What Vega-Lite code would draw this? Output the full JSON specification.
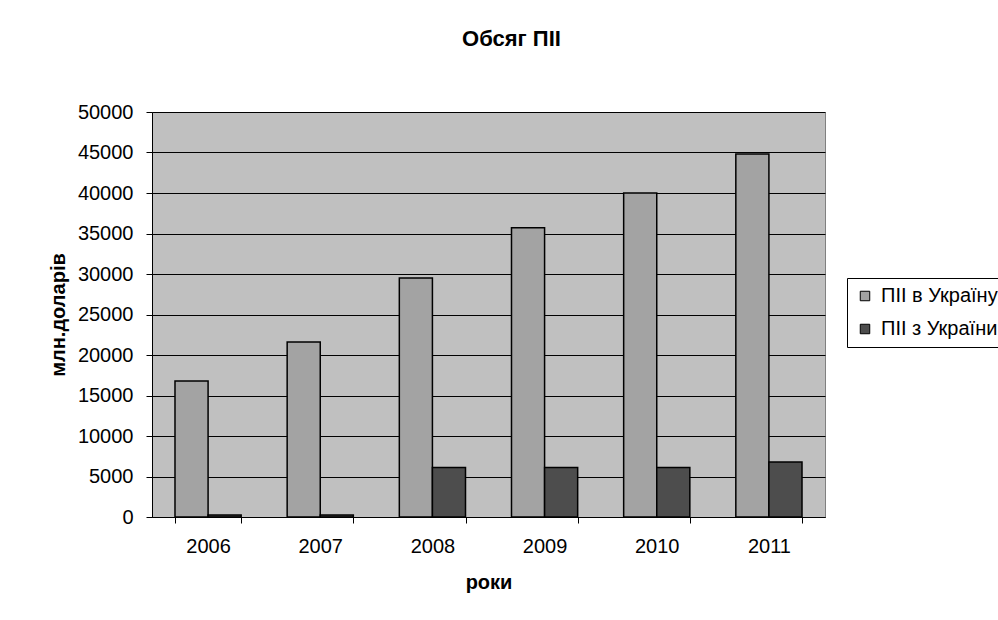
{
  "$schema": "https://vega.github.io/schema/vega-lite/v6.json",
  "width": 673,
  "height": 405,
  "autosize": {"type": "none"},
  "padding": {"left": 152, "top": 112, "right": 173, "bottom": 103},
  "background": "white",
  "title": {
    "text": "Обсяг ПІІ",
    "font": "Liberation Sans",
    "fontSize": 22,
    "fontWeight": "bold",
    "color": "black",
    "anchor": "middle",
    "frame": "group",
    "baseline": "alphabetic",
    "dx": 23,
    "offset": 34
  },
  "data": {
    "values": [
      {"year": "2006", "series": "ПІІ в Україну", "value": 16800},
      {"year": "2006", "series": "ПІІ з України", "value": 250},
      {"year": "2007", "series": "ПІІ в Україну", "value": 21600},
      {"year": "2007", "series": "ПІІ з України", "value": 250},
      {"year": "2008", "series": "ПІІ в Україну", "value": 29500},
      {"year": "2008", "series": "ПІІ з України", "value": 6100},
      {"year": "2009", "series": "ПІІ в Україну", "value": 35700},
      {"year": "2009", "series": "ПІІ з України", "value": 6100},
      {"year": "2010", "series": "ПІІ в Україну", "value": 40000},
      {"year": "2010", "series": "ПІІ з України", "value": 6100},
      {"year": "2011", "series": "ПІІ в Україну", "value": 44800},
      {"year": "2011", "series": "ПІІ з України", "value": 6800}
    ]
  },
  "mark": {"type": "bar", "stroke": "black", "strokeWidth": 1.5},
  "encoding": {
    "x": {
      "field": "year",
      "type": "nominal",
      "scale": {"paddingInner": 0.41, "paddingOuter": 0.205},
      "axis": {
        "title": "роки",
        "labelAngle": 0,
        "tickBand": "extent",
        "tickSize": 6,
        "labelPadding": 13,
        "titlePadding": 16,
        "grid": false
      }
    },
    "xOffset": {
      "field": "series",
      "type": "nominal",
      "sort": ["ПІІ в Україну", "ПІІ з України"]
    },
    "y": {
      "field": "value",
      "type": "quantitative",
      "scale": {"domain": [0, 50000], "nice": false},
      "axis": {
        "title": "млн.доларів",
        "values": [0, 5000, 10000, 15000, 20000, 25000, 30000, 35000, 40000, 45000, 50000],
        "format": "d",
        "tickSize": 6,
        "labelPadding": 13,
        "titlePadding": 9,
        "grid": true,
        "gridColor": "black",
        "gridOpacity": 1,
        "gridWidth": 1
      }
    },
    "color": {
      "field": "series",
      "type": "nominal",
      "sort": ["ПІІ в Україну", "ПІІ з України"],
      "scale": {"domain": ["ПІІ в Україну", "ПІІ з України"], "range": ["#A3A3A3", "#4D4D4D"]},
      "legend": {
        "title": null,
        "orient": "none",
        "legendX": 695,
        "legendY": 166,
        "strokeColor": "black",
        "fillColor": "white",
        "padding": 8,
        "rowPadding": 13,
        "symbolType": "square",
        "symbolSize": 90,
        "symbolStrokeColor": "black",
        "symbolStrokeWidth": 1,
        "symbolOpacity": 1,
        "labelFont": "Liberation Sans",
        "labelFontSize": 20,
        "labelColor": "black",
        "labelOffset": 6,
        "labelLimit": 300
      }
    }
  },
  "config": {
    "view": {"fill": "#C0C0C0", "stroke": "#808080", "strokeWidth": 1},
    "axis": {
      "domainColor": "black",
      "domainWidth": 1,
      "tickColor": "black",
      "tickWidth": 1,
      "labelFont": "Liberation Sans",
      "labelFontSize": 20,
      "labelColor": "black",
      "titleFont": "Liberation Sans",
      "titleFontSize": 20,
      "titleFontWeight": "bold",
      "titleColor": "black"
    }
  }
}
